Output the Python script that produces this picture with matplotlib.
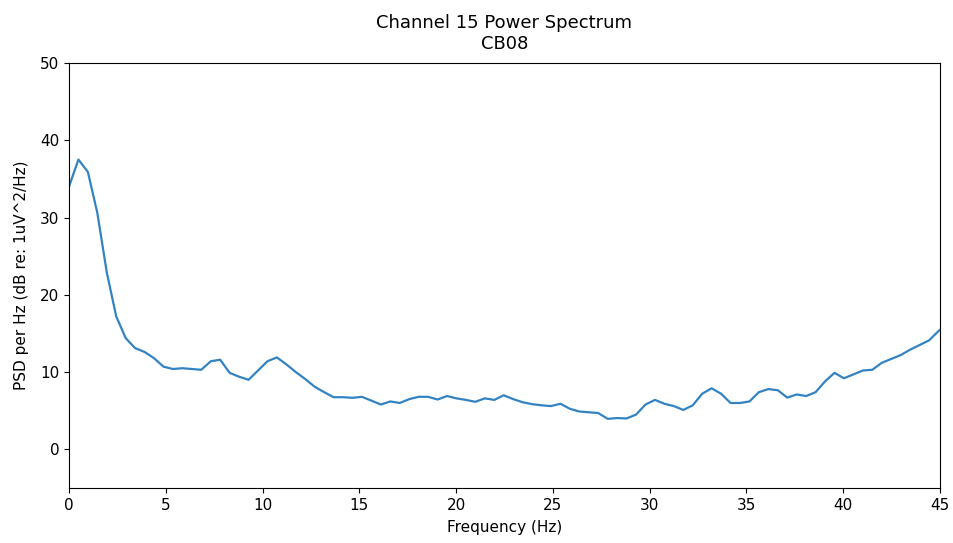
import numpy as np
import matplotlib
matplotlib.use('Agg')
import matplotlib.pyplot as plt

# ============ 数据 ============
freq_res = 250 / 512   # 频率分辨率 (Hz)
psd_db = [
    34.0, 37.5, 35.9, 30.6, 22.9, 17.2, 14.4, 13.1, 12.6, 11.8,
    10.7, 10.4, 10.5, 10.4, 10.3, 11.4, 11.6, 9.9, 9.4, 9.0,
    10.2, 11.4, 11.9, 11.0, 10.0, 9.1, 8.1, 7.4, 6.75, 6.75,
    6.67, 6.8, 6.3, 5.8, 6.2, 6.0, 6.5, 6.8, 6.8, 6.45,
    6.9, 6.6, 6.4, 6.15, 6.6, 6.4, 7.0, 6.5, 6.1, 5.85,
    5.7, 5.6, 5.9, 5.25, 4.9, 4.8, 4.7, 3.95, 4.05, 4.0,
    4.5, 5.8, 6.4, 5.9, 5.6, 5.1, 5.7, 7.2, 7.9, 7.2,
    6.0, 6.0, 6.2, 7.4, 7.8, 7.65, 6.7, 7.1, 6.9, 7.4,
    8.8, 9.9, 9.2, 9.7, 10.2, 10.3, 11.2, 11.7, 12.2, 12.9,
    13.5, 14.1, 15.3, 16.4,
]
freqs = np.arange(len(psd_db)) * freq_res

channel = 15
ch_name = 'CB08'

fig = plt.figure(figsize=(9.54, 5.43), dpi=100)
ax = fig.add_axes([0.0723, 0.1013, 0.9130, 0.7827])

ax.plot(freqs, psd_db, color='#3383c3', linewidth=1.6)

ax.set_xlim(0, 45)
ax.set_ylim(-5, 50)
ax.set_xticks(np.arange(0, 46, 5))
ax.set_yticks(np.arange(0, 51, 10))
ax.tick_params(labelsize=11)
ax.set_xlabel('Frequency (Hz)', fontsize=11, labelpad=5.5)
ax.set_ylabel('PSD per Hz (dB re: 1uV^2/Hz)', fontsize=11, labelpad=7.5)
ax.set_title(f'Channel {channel} Power Spectrum\n{ch_name}', fontsize=13, pad=10)

fig.savefig('out.png', dpi=100)
